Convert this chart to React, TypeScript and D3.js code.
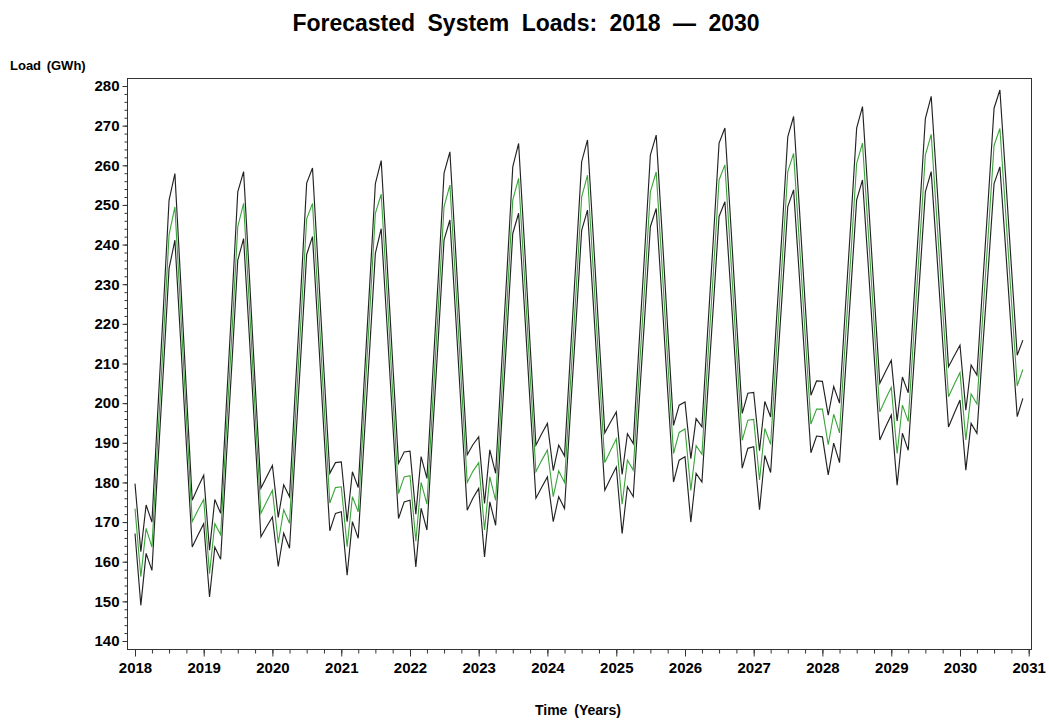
import React, { useEffect, useRef } from 'react';
import * as d3 from 'd3';

// monthly values, Jan 2018 .. Dec 2030 (one row per year)
const forecast = [
	173.4, 156.2, 168.4, 163.7, 190.0, 216.2, 242.5, 249.5, 223.0, 196.6, 170.1, 173.0,
	175.7, 157.0, 169.6, 166.8, 192.7, 218.6, 244.5, 250.4, 224.3, 198.3, 172.2, 175.1,
	178.0, 164.7, 173.1, 169.7, 195.5, 221.2, 246.5, 250.4, 225.2, 200.0, 174.8, 178.7,
	178.9, 163.8, 176.4, 172.6, 197.7, 222.8, 247.9, 252.7, 227.9, 202.5, 177.2, 181.4,
	181.7, 165.2, 180.0, 174.5, 199.5, 224.6, 249.6, 255.0, 230.0, 205.0, 180.0, 182.8,
	185.0, 168.0, 181.4, 175.5, 200.7, 226.0, 251.2, 256.7, 232.0, 207.4, 182.7, 185.5,
	188.2, 176.4, 182.9, 180.0, 203.9, 228.0, 252.0, 257.5, 233.3, 209.2, 185.0, 188.0,
	191.0, 174.5, 185.6, 183.1, 206.5, 229.9, 253.3, 258.3, 234.6, 210.9, 187.3, 192.6,
	193.5, 178.0, 189.3, 187.1, 210.2, 233.2, 256.3, 260.1, 236.9, 213.8, 190.6, 195.7,
	195.9, 180.6, 193.6, 189.6, 212.5, 235.5, 258.4, 263.0, 240.2, 217.5, 194.7, 198.5,
	198.5, 189.5, 197.2, 192.5, 215.2, 237.8, 260.5, 265.6, 243.0, 220.4, 197.8, 201.0,
	204.0, 187.3, 199.5, 195.4, 217.8, 240.2, 262.6, 267.8, 245.7, 223.7, 201.6, 204.7,
	207.7, 190.7, 202.3, 199.8, 221.5, 243.3, 265.0, 269.3, 247.7, 226.1, 204.4, 208.5
];

const upper = [
	179.7, 162.5, 174.3, 170.0, 197.1, 224.1, 251.2, 257.9, 230.4, 203.0, 175.5, 178.7,
	181.8, 162.9, 175.7, 172.2, 199.2, 226.3, 253.3, 258.4, 231.8, 205.1, 178.5, 181.4,
	184.3, 171.2, 179.4, 176.4, 202.8, 229.1, 255.5, 259.3, 233.6, 208.0, 182.3, 185.0,
	185.2, 170.1, 182.7, 178.7, 204.3, 229.9, 255.4, 261.2, 235.7, 210.3, 184.8, 187.7,
	187.9, 172.0, 186.5, 181.0, 206.7, 232.3, 258.0, 263.4, 237.9, 212.5, 187.0, 189.5,
	191.5, 174.7, 188.2, 182.3, 208.1, 233.8, 259.6, 265.5, 240.1, 214.8, 189.4, 192.2,
	194.9, 183.0, 189.4, 186.7, 211.4, 236.2, 260.9, 266.4, 241.7, 217.2, 192.5, 195.2,
	197.8, 182.0, 192.3, 189.8, 214.1, 238.3, 262.6, 267.6, 243.2, 218.8, 194.4, 199.5,
	200.3, 186.0, 196.1, 194.0, 217.9, 241.7, 265.6, 269.4, 245.4, 221.4, 197.4, 202.5,
	202.7, 188.0, 200.4, 196.5, 220.1, 243.6, 267.2, 272.3, 248.9, 225.4, 202.0, 205.6,
	205.5, 197.0, 204.2, 200.0, 223.1, 246.3, 269.4, 274.8, 251.5, 228.3, 205.0, 207.9,
	210.8, 195.5, 206.6, 202.6, 225.7, 248.7, 271.8, 277.4, 254.7, 232.0, 209.2, 211.9,
	214.6, 198.2, 209.6, 207.1, 229.5, 252.0, 274.4, 279.0, 256.7, 234.4, 212.1, 215.9
];

const lower = [
	167.1, 149.0, 162.1, 157.8, 183.2, 208.6, 234.0, 241.1, 215.3, 189.5, 163.7, 166.7,
	169.6, 151.1, 163.7, 160.6, 185.8, 210.9, 236.1, 241.5, 216.4, 191.4, 166.3, 168.8,
	171.3, 158.8, 167.2, 163.4, 188.1, 212.8, 237.5, 242.0, 217.3, 192.5, 167.8, 172.2,
	172.6, 156.6, 170.1, 165.9, 189.9, 213.8, 237.8, 244.0, 219.6, 195.3, 170.9, 175.1,
	175.5, 158.7, 173.5, 168.0, 192.4, 216.8, 241.2, 246.2, 221.8, 197.4, 173.0, 176.0,
	178.5, 161.2, 175.1, 169.2, 193.7, 218.3, 242.8, 247.9, 223.9, 200.0, 176.0, 178.7,
	181.4, 170.1, 176.4, 173.4, 196.8, 220.2, 243.6, 248.7, 225.1, 201.6, 178.0, 181.0,
	183.9, 167.1, 178.9, 176.4, 199.1, 221.8, 244.5, 249.1, 226.1, 203.1, 180.1, 185.6,
	186.5, 170.0, 182.3, 180.1, 202.4, 224.8, 247.1, 250.8, 228.4, 206.0, 183.6, 188.6,
	189.0, 173.1, 186.8, 182.5, 204.9, 227.2, 249.6, 253.8, 231.7, 209.6, 187.5, 191.7,
	191.5, 181.9, 189.9, 185.0, 207.1, 229.2, 251.3, 256.3, 234.4, 212.5, 190.7, 193.9,
	197.0, 179.3, 192.4, 188.1, 209.8, 231.6, 253.3, 258.4, 236.9, 215.5, 194.0, 197.4,
	200.8, 183.1, 194.9, 192.4, 213.4, 234.4, 255.4, 259.6, 238.6, 217.6, 196.6, 201.2
];

const yearTicks = [2018, 2019, 2020, 2021, 2022, 2023, 2024, 2025, 2026, 2027, 2028, 2029, 2030, 2031];
const loadTicks = [140, 150, 160, 170, 180, 190, 200, 210, 220, 230, 240, 250, 260, 270, 280];

const W = 1049;
const H = 723;
const font = '"Liberation Sans", Arial, sans-serif';

export default function App() {
	const ref = useRef<SVGSVGElement>(null);

	useEffect(() => {
		const svg = d3.select(ref.current);
		svg.selectAll('*').remove();

		const left = 127.5, right = 1031.5, top = 78.5, bottom = 649.5;

		const months = d3.timeMonth.range(new Date(2018, 0, 1), new Date(2031, 0, 1));

		var x = d3
			.scaleTime()
			.domain([new Date(2018, 0, 1), new Date(2031, 0, 1)])
			.range([135, 1028.7]);

		var y = d3
			.scaleLinear()
			.domain([140, 280])
			.range([641, 86]);

		// frame
		svg
			.append('rect')
			.attr('x', left)
			.attr('y', top)
			.attr('width', right - left)
			.attr('height', bottom - top)
			.attr('fill', 'none')
			.attr('stroke', '#333')
			.attr('stroke-width', 1);

		// x axis, minor ticks then major
		var xMinor = d3
			.axisBottom(x)
			.tickValues(d3.timeMonth.range(new Date(2018, 0, 1), new Date(2031, 0, 2), 3))
			.tickSize(4)
			.tickFormat(() => '');
		svg.append('g').attr('transform', `translate(0,${bottom})`).call(xMinor);

		var xAxis = d3
			.axisBottom(x)
			.tickValues(yearTicks.map(d => new Date(d, 0, 1)))
			.tickSize(7)
			.tickPadding(6)
			.tickFormat(d => d3.timeFormat('%Y')(d as Date));
		svg.append('g').attr('class', 'xaxis').attr('transform', `translate(0,${bottom})`).call(xAxis);

		// y axis
		var yMinor = d3
			.axisLeft(y)
			.tickValues(d3.range(140, 281, 2))
			.tickSize(3)
			.tickFormat(() => '');
		svg.append('g').attr('transform', `translate(${left},0)`).call(yMinor);

		var yAxis = d3
			.axisLeft(y)
			.tickValues(loadTicks)
			.tickSize(5)
			.tickPadding(3)
			.tickFormat(d3.format('d'));
		svg.append('g').attr('class', 'yaxis').attr('transform', `translate(${left},0)`).call(yAxis);

		svg.selectAll('.domain').remove();
		svg.selectAll('.tick line').attr('stroke', '#333');
		svg
			.selectAll('.xaxis text, .yaxis text')
			.attr('font-family', font)
			.attr('font-size', 15)
			.attr('font-weight', 'bold')
			.attr('fill', '#000');

		// series
		var line = d3
			.line<number>()
			.x((d, i) => x(months[i]))
			.y(d => y(d));

		[upper, lower].forEach(s => {
			svg
				.append('path')
				.datum(s)
				.attr('d', line)
				.attr('fill', 'none')
				.attr('stroke', '#222')
				.attr('stroke-width', 1.15);
		});

		svg
			.append('path')
			.datum(forecast)
			.attr('d', line)
			.attr('fill', 'none')
			.attr('stroke', '#3aa33a')
			.attr('stroke-width', 1.1);

		// titles
		svg
			.append('text')
			.attr('x', 526)
			.attr('y', 31)
			.attr('text-anchor', 'middle')
			.attr('font-family', font)
			.attr('font-weight', 'bold')
			.attr('font-size', 23)
			.attr('word-spacing', 6)
			.text('Forecasted System Loads: 2018 — 2030');

		svg
			.append('text')
			.attr('x', 10)
			.attr('y', 70)
			.attr('font-family', font)
			.attr('font-weight', 'bold')
			.attr('font-size', 13)
			.attr('word-spacing', 2)
			.text('Load (GWh)');

		svg
			.append('text')
			.attr('x', 578)
			.attr('y', 715)
			.attr('text-anchor', 'middle')
			.attr('font-family', font)
			.attr('font-weight', 'bold')
			.attr('font-size', 14)
			.attr('word-spacing', 3)
			.text('Time (Years)');
	}, []);

	return (
		<svg
			ref={ref}
			width={W}
			height={H}
			style={{ position: 'absolute', left: 0, top: 0, background: '#fff' }}
		/>
	);
}
